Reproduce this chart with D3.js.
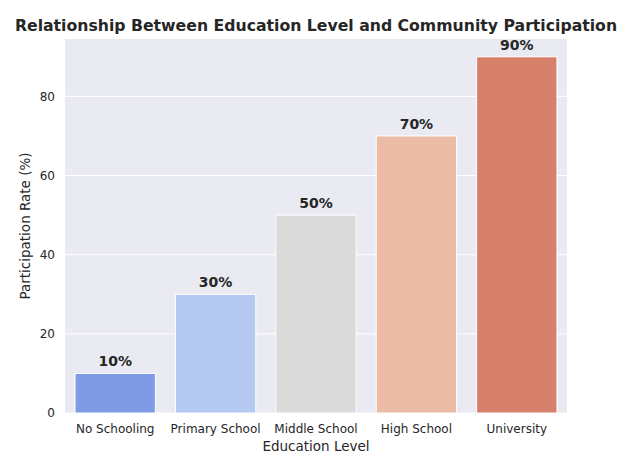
<!DOCTYPE html>
<html>
<head>
<meta charset="utf-8">
<script src="https://cdn.jsdelivr.net/npm/d3@7"></script>
<style>
  body { margin: 0; background: #fff; }
  svg { font-family: "DejaVu Sans", sans-serif; }
</style>
</head>
<body>
<div id="chart"></div>
<script>
// data
var levels = ["No Schooling", "Primary School", "Middle School", "High School", "University"];
var rates = [10, 30, 50, 70, 90];
var barColors = ["#7f9be3", "#b5c9f3", "#dadada", "#ecbba5", "#d6806c"];
var yTicks = [0, 20, 40, 60, 80];

var width = 622, height = 452;
var margin = { top: 39, right: 55, bottom: 39, left: 65 };

var svg = d3.select("#chart").append("svg")
  .attr("width", width)
  .attr("height", height);

var plotW = width - margin.left - margin.right;
var plotH = height - margin.top - margin.bottom;

var g = svg.append("g")
  .attr("transform", "translate(" + margin.left + "," + margin.top + ")");

var xScale = d3.scaleBand().domain(levels).range([0, plotW]).paddingInner(0.2).paddingOuter(0.1);
var yScale = d3.scaleLinear().domain([0, 94.5]).range([plotH, 0]);

// background + grid
g.append("rect").attr("width", plotW).attr("height", plotH).attr("fill", "#eaeaf2");
g.selectAll(".grid").data(yTicks).enter().append("line")
  .attr("x1", 0).attr("x2", plotW)
  .attr("y1", d => yScale(d)).attr("y2", d => yScale(d))
  .attr("stroke", "#fff").attr("stroke-width", 1);

// bars
g.selectAll(".bar").data(levels).enter().append("rect")
  .attr("x", d => xScale(d))
  .attr("y", (d, i) => yScale(rates[i]))
  .attr("width", xScale.bandwidth())
  .attr("height", (d, i) => plotH - yScale(rates[i]))
  .attr("fill", (d, i) => barColors[i])
  .attr("stroke", "#fff").attr("stroke-width", 1);

// value labels
g.selectAll(".val").data(levels).enter().append("text")
  .attr("x", d => xScale(d) + xScale.bandwidth() / 2)
  .attr("y", (d, i) => yScale(rates[i]) - 7)
  .attr("text-anchor", "middle")
  .attr("font-size", 14).attr("font-weight", "bold").attr("fill", "#262626")
  .text((d, i) => rates[i] + "%");

// axes
var yAxis = g.append("g").call(d3.axisLeft(yScale).tickValues(yTicks).tickSize(0).tickPadding(10));
yAxis.select(".domain").remove();
yAxis.selectAll("text").attr("font-size", 12).attr("fill", "#262626").attr("font-family", "DejaVu Sans");

var xAxis = g.append("g").attr("transform", "translate(0," + plotH + ")")
  .call(d3.axisBottom(xScale).tickSize(0).tickPadding(11));
xAxis.select(".domain").remove();
xAxis.selectAll("text").attr("font-size", 12).attr("fill", "#262626").attr("font-family", "DejaVu Sans");

// titles
svg.append("text")
  .attr("x", margin.left + plotW / 2).attr("y", 31)
  .attr("text-anchor", "middle")
  .attr("font-size", 15.7).attr("font-weight", "bold").attr("fill", "#262626")
  .text("Relationship Between Education Level and Community Participation");

svg.append("text")
  .attr("x", margin.left + plotW / 2).attr("y", 451)
  .attr("text-anchor", "middle")
  .attr("font-size", 13.5).attr("fill", "#262626")
  .text("Education Level");

svg.append("text")
  .attr("transform", "translate(30," + (margin.top + plotH / 2) + ") rotate(-90)")
  .attr("text-anchor", "middle")
  .attr("font-size", 13.5).attr("fill", "#262626")
  .text("Participation Rate (%)");
</script>
</body>
</html>
